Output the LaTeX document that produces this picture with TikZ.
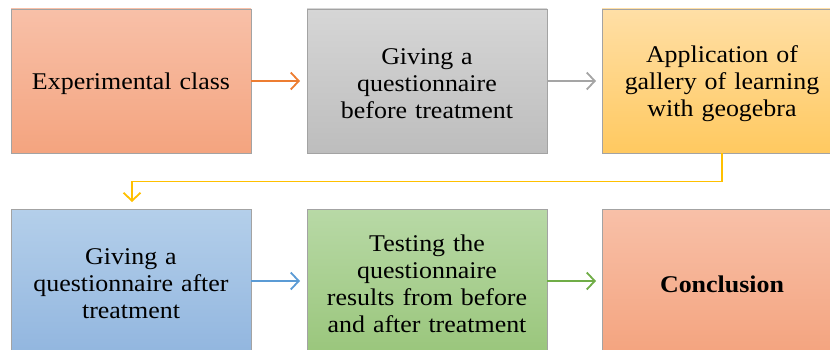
\documentclass[tikz,border=0pt]{standalone}
\usepackage{fontspec}
\setmainfont{Liberation Serif}
\newfontfamily\tnr{Liberation Serif}[FakeStretch=1.08]
\usetikzlibrary{arrows.meta,positioning}
\definecolor{orT}{HTML}{F8C0A8}
\definecolor{orB}{HTML}{F4A47F}
\definecolor{grT}{HTML}{D6D6D6}
\definecolor{grB}{HTML}{BDBDBD}
\definecolor{yeT}{HTML}{FFDFA6}
\definecolor{yeB}{HTML}{FFC960}
\definecolor{blT}{HTML}{B4CFEA}
\definecolor{blB}{HTML}{92B6DF}
\definecolor{gnT}{HTML}{B8D9A6}
\definecolor{gnB}{HTML}{9AC67C}
\definecolor{bord}{HTML}{A3A3A3}
\definecolor{aor}{HTML}{ED7D31}
\definecolor{agr}{HTML}{A5A5A5}
\definecolor{aye}{HTML}{FFC000}
\definecolor{abl}{HTML}{5B9BD5}
\definecolor{agn}{HTML}{70AD47}
\begin{document}
\begin{tikzpicture}[x=1pt,y=-1pt,
  box/.style={draw=bord,line width=0.8pt,minimum width=240pt,minimum height=144pt,inner sep=0pt},
  txt/.style={align=center,inner sep=0pt,text width=236pt,font=\tnr\fontsize{24}{27}\selectfont},
  conn/.style={line width=1.8pt,-{Straight Barb[length=8pt,width=17pt,line width=1.8pt]}}]
\useasboundingbox (0,0) rectangle (830,350);
\begin{scope}
\clip (0,0) rectangle (830,350);
\node[box,top color=orT,bottom color=orB] (b1) at (131,81) {};
\node[box,top color=grT,bottom color=grB] (b2) at (427,81) {};
\node[box,top color=yeT,bottom color=yeB] (b3) at (722,81) {};
\node[box,top color=blT,bottom color=blB] (b4) at (131,281) {};
\node[box,top color=gnT,bottom color=gnB] (b5) at (427,281) {};
\node[box,top color=orT,bottom color=orB] (b6) at (722,281) {};
\node[txt] (l1) at ([yshift=-3pt]b1.center) {Experimental class};
\node[txt] (l2) at ([yshift=-3pt]b2.center) {Giving a\\questionnaire\\before treatment};
\node[txt] (l3) at ([yshift=-3pt]b3.center) {Application of\\gallery of learning\\with geogebra};
\node[txt] (l4) at ([yshift=-3pt]b4.center) {Giving a\\questionnaire after\\treatment};
\node[txt] (l5) at ([yshift=-3pt]b5.center) {Testing the\\questionnaire\\results from before\\and after treatment};
\node[txt] (l6) at ([yshift=-3pt]b6.center) {\textbf{Conclusion}};
\end{scope}
\coordinate (t1) at (300,81);
\coordinate (t2) at (596,81);
\coordinate (t5) at (300,281);
\coordinate (t6) at (596,281);
\coordinate (t4) at (132,202);
\draw[conn,aor] (b1.east) -- (t1);
\draw[conn,agr] (b2.east) -- (t2);
\draw[conn,abl] (b4.east) -- (t5);
\draw[conn,agn] (b5.east) -- (t6);
\draw[conn,aye] (b3.south) -- ++(0,28) -| (t4);
\end{tikzpicture}
\end{document}
